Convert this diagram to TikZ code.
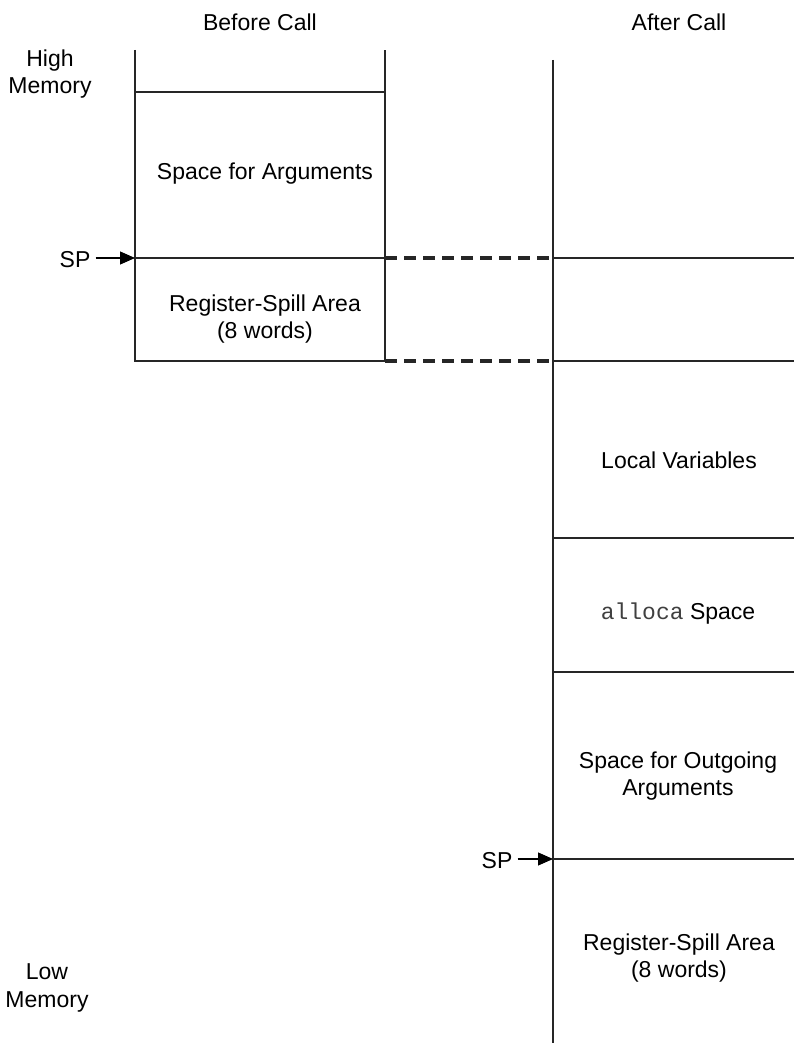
\documentclass[tikz,border=0pt]{standalone}
\usepackage{fontspec}
\setmainfont{Liberation Sans}
\setmonofont{Liberation Mono}
\usetikzlibrary{arrows.meta}
\begin{document}
\begin{tikzpicture}[x=1pt,y=-1pt,
  lbl/.style={font=\fontsize{23}{27.5}\selectfont, align=center, inner sep=0pt},
  wall/.style={line width=1.1pt, black!85},
  link/.style={draw=black!85, line width=3.4pt, dash pattern=on 12pt off 7pt},
  ptr/.style={-{Triangle[length=15pt,width=13pt]}, line width=1.1pt, shorten <=5pt}]
\useasboundingbox[fill=white] (0,0) rectangle (794,1043);

% headings and side labels
\node[lbl] (before) at (260,22) {Before Call};
\node[lbl] (after) at (679,22) {After Call};
\node[lbl] (high) at (50,74) {High\\Memory};
\node[lbl] (low) at (47,988) {Low\\Memory};

% before-call stack
\coordinate (bl0) at (135,50);  \coordinate (br0) at (385,50);
\coordinate (bl1) at (135,92);  \coordinate (br1) at (385,92);
\coordinate (bl2) at (135,258); \coordinate (br2) at (385,258);
\coordinate (bl3) at (135,361); \coordinate (br3) at (385,361);
\draw[wall] (bl0) -- (bl3) -- (br3) -- (br0);
\draw[wall] (bl1) -- (br1);
\draw[wall] (bl2) -- (br2);
\node[lbl] (args) at (265,174) {Space for Arguments};
\node[lbl] (spill1) at (265,319) {Register-Spill Area\\(8 words)};

% after-call stack
\coordinate (ar0) at (553,60);
\coordinate (ar1) at (553,258); \coordinate (ae1) at (794,258);
\coordinate (ar2) at (553,361); \coordinate (ae2) at (794,361);
\coordinate (ar3) at (553,538); \coordinate (ae3) at (794,538);
\coordinate (ar4) at (553,672); \coordinate (ae4) at (794,672);
\coordinate (ar5) at (553,859); \coordinate (ae5) at (794,859);
\coordinate (ar6) at (553,1043);
\draw[wall] (ar0) -- (ar6);
\foreach \i in {1,...,5} \draw[wall] (ar\i) -- (ae\i);
\node[lbl] (locals) at (679,460) {Local Variables};
\node[lbl] (alloca) at (678,614) {\texttt{\color{black!75}alloca} Space};
\node[lbl] (outgoing) at (678,776) {Space for Outgoing\\Arguments};
\node[lbl] (spill2) at (679,958) {Register-Spill Area\\(8 words)};

% dashed links
\path[link] (br2) -- (ar1);
\path[link] (br3) -- (ar2);

% stack pointers
\node[lbl] (sp1) at (75,260) {SP};
\node[lbl] (sp2) at (497,861) {SP};
\draw[ptr] (sp1.east |- bl2) -- (bl2);
\draw[ptr] (sp2.east |- ar5) -- (ar5);
\end{tikzpicture}
\end{document}
